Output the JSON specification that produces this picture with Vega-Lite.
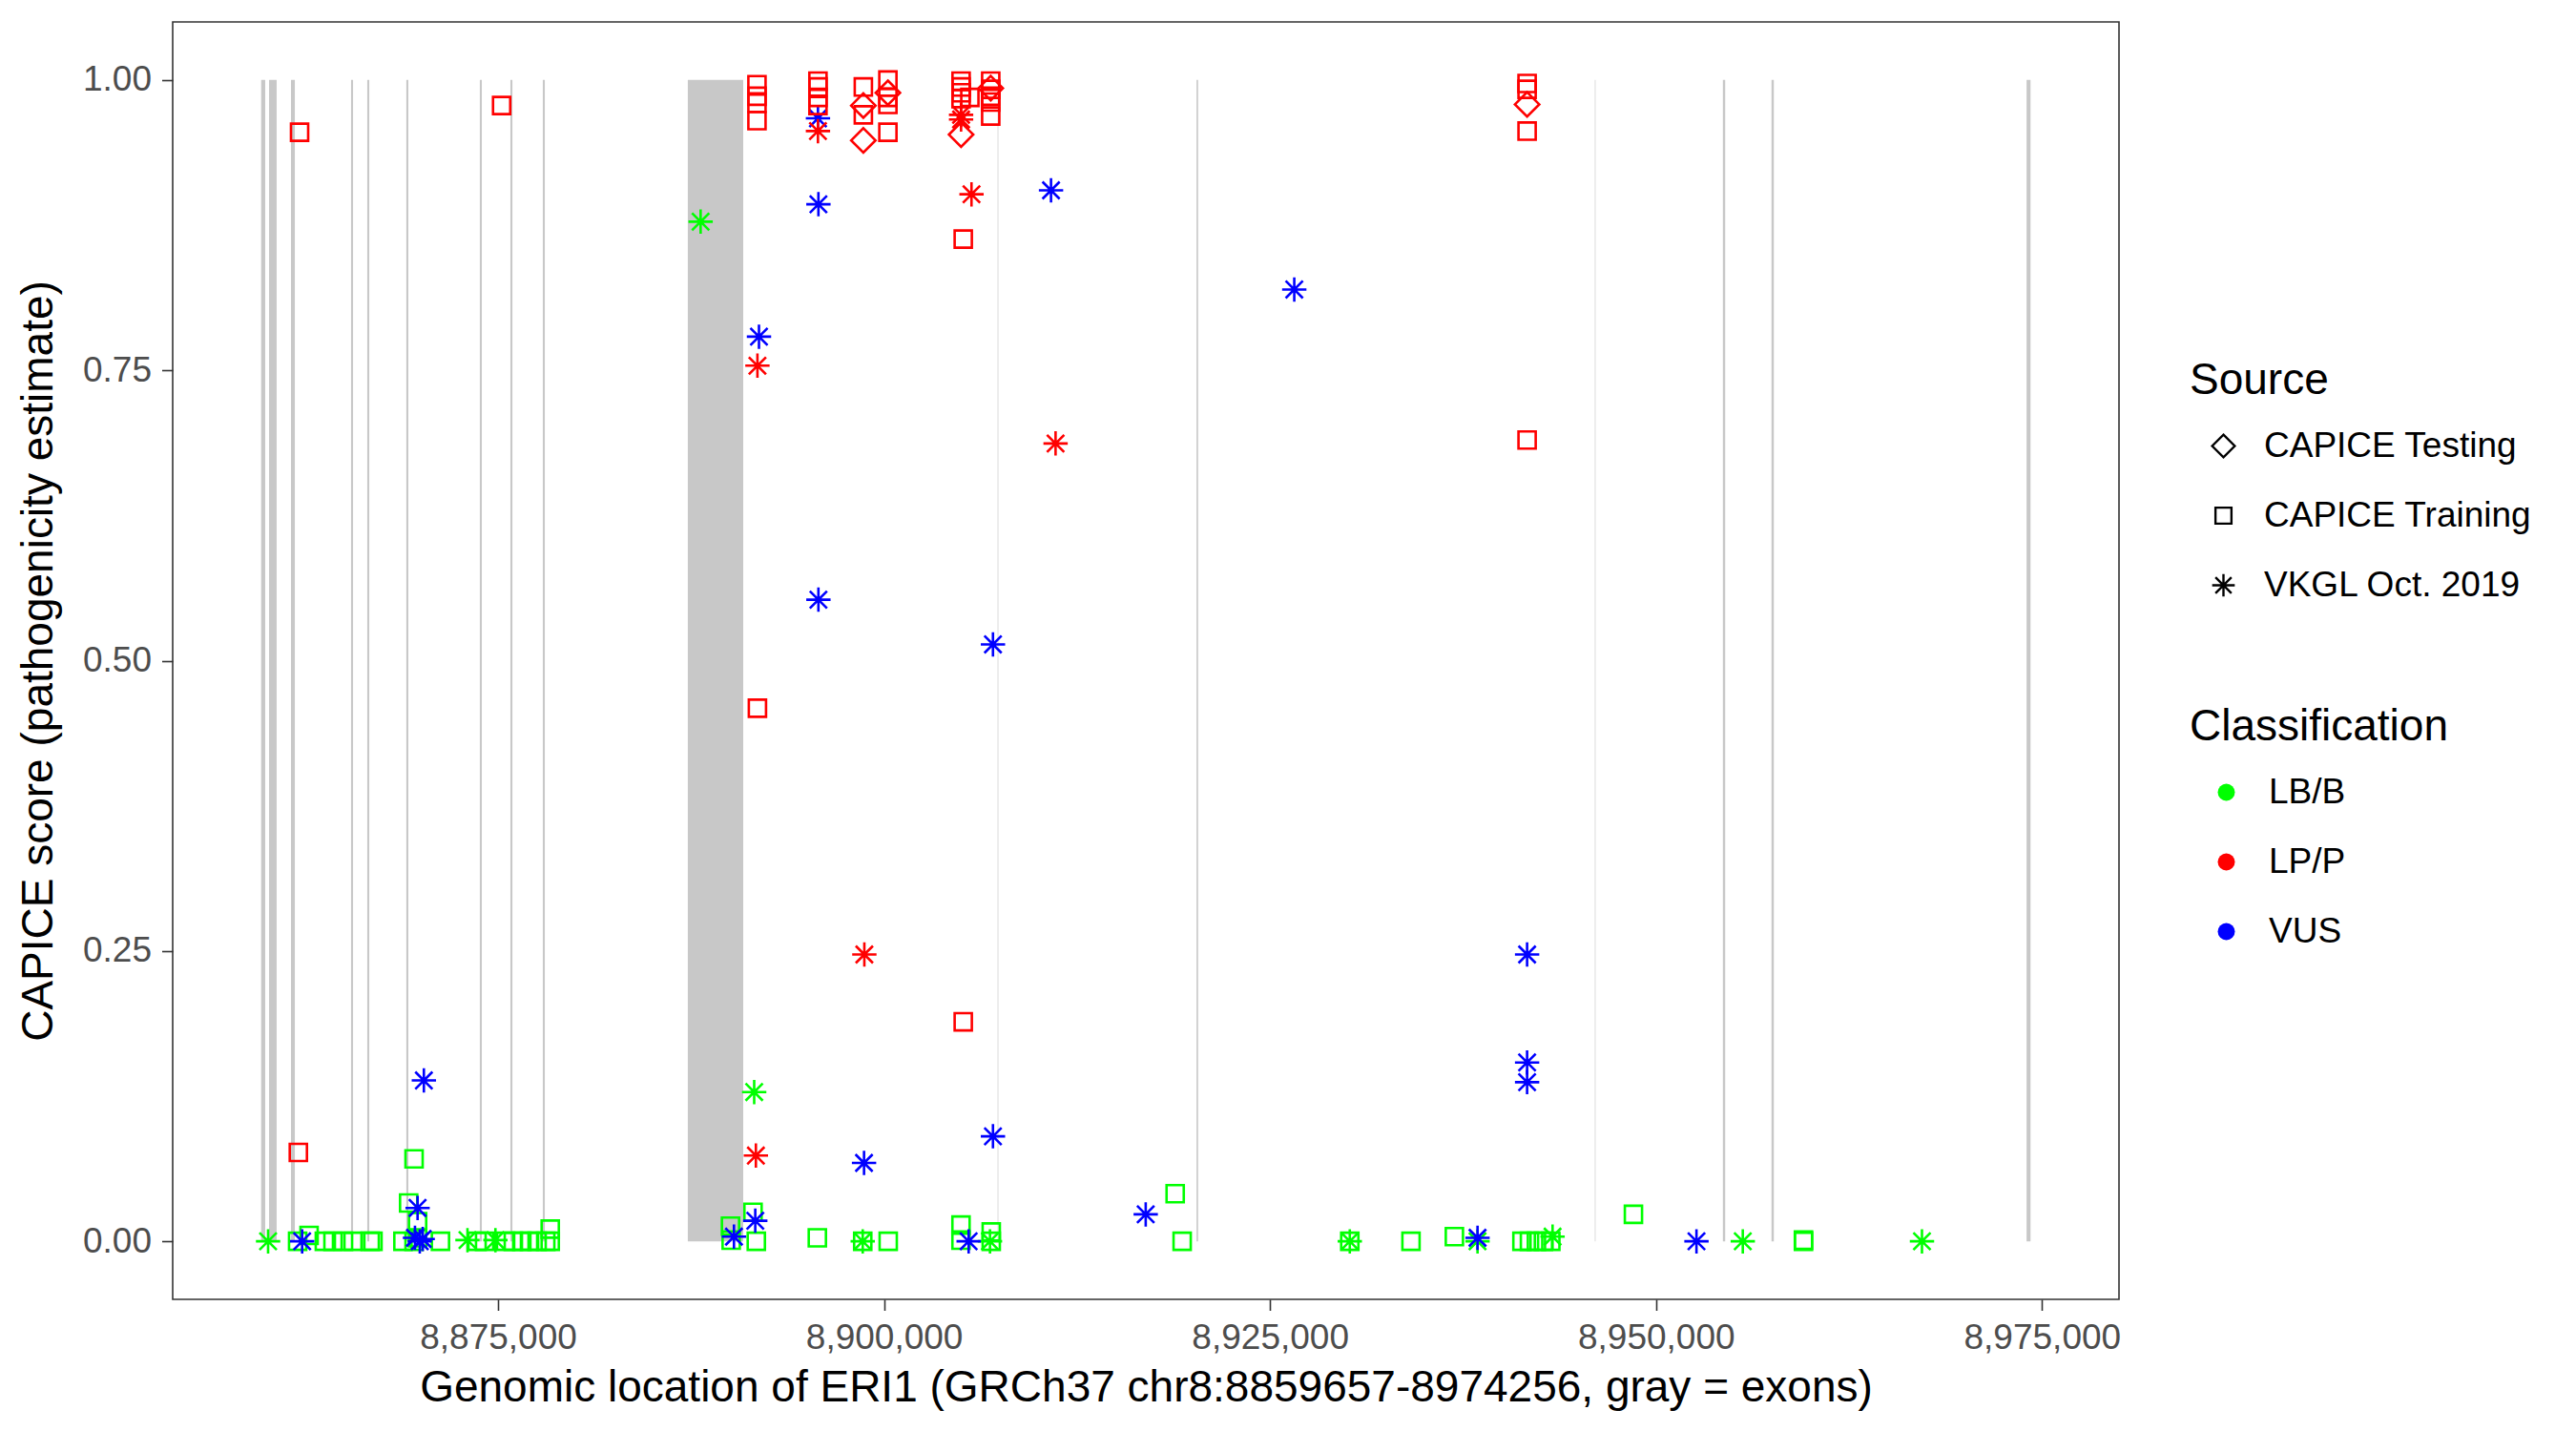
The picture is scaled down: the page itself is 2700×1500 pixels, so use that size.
{
  "$schema": "https://vega.github.io/schema/vega-lite/v6.json",
  "width": 2040,
  "height": 1339,
  "autosize": {"type": "none"},
  "padding": {"left": 181, "top": 23, "right": 479, "bottom": 138},
  "background": "white",
  "config": {
    "font": "Liberation Sans",
    "view": {"stroke": "#333333", "strokeWidth": 1.6},
    "axis": {
      "grid": false,
      "domain": false,
      "labelFontSize": 37,
      "labelColor": "#4D4D4D",
      "labelFont": "Liberation Sans",
      "tickColor": "#333333",
      "tickWidth": 1.6,
      "tickSize": 11.5,
      "labelPadding": 11,
      "titleFontSize": 46,
      "titleFontWeight": "normal",
      "titleColor": "black",
      "titleFont": "Liberation Sans"
    },
    "legend": {
      "titleFont": "Liberation Sans",
      "labelFont": "Liberation Sans",
      "titleFontSize": 46,
      "titleFontWeight": "normal",
      "titleColor": "black",
      "labelFontSize": 37,
      "labelColor": "black",
      "labelLimit": 0,
      "titleLimit": 0,
      "padding": 0
    }
  },
  "datasets": {
    "exons": [
      {"start": 8859657, "end": 8859920},
      {"start": 8860170, "end": 8860660},
      {"start": 8861590, "end": 8861840},
      {"start": 8865480, "end": 8865610},
      {"start": 8866530, "end": 8866660},
      {"start": 8869060, "end": 8869190},
      {"start": 8873820, "end": 8873950},
      {"start": 8875800, "end": 8875930},
      {"start": 8877900, "end": 8878030},
      {"start": 8887290, "end": 8890880},
      {"start": 8907360, "end": 8907400},
      {"start": 8920240, "end": 8920340},
      {"start": 8946040, "end": 8946080},
      {"start": 8954330, "end": 8954480},
      {"start": 8957480, "end": 8957630},
      {"start": 8974000, "end": 8974256}
    ],
    "variants": [
      {"pos": 8862020, "score": 0, "source": "CAPICE Training", "cls": "LB/B"},
      {"pos": 8862760, "score": 0.005, "source": "CAPICE Training", "cls": "LB/B"},
      {"pos": 8863750, "score": 0, "source": "CAPICE Training", "cls": "LB/B"},
      {"pos": 8864310, "score": 0, "source": "CAPICE Training", "cls": "LB/B"},
      {"pos": 8864990, "score": 0, "source": "CAPICE Training", "cls": "LB/B"},
      {"pos": 8865610, "score": 0, "source": "CAPICE Training", "cls": "LB/B"},
      {"pos": 8866720, "score": 0, "source": "CAPICE Training", "cls": "LB/B"},
      {"pos": 8866900, "score": 0, "source": "CAPICE Training", "cls": "LB/B"},
      {"pos": 8868840, "score": 0, "source": "CAPICE Training", "cls": "LB/B"},
      {"pos": 8869560, "score": 0.071, "source": "CAPICE Training", "cls": "LB/B"},
      {"pos": 8869210, "score": 0.033, "source": "CAPICE Training", "cls": "LB/B"},
      {"pos": 8869790, "score": 0.017, "source": "CAPICE Training", "cls": "LB/B"},
      {"pos": 8869790, "score": 0.003, "source": "CAPICE Training", "cls": "LB/B"},
      {"pos": 8869560, "score": 0, "source": "CAPICE Training", "cls": "LB/B"},
      {"pos": 8871270, "score": 0, "source": "CAPICE Training", "cls": "LB/B"},
      {"pos": 8873640, "score": 0, "source": "CAPICE Training", "cls": "LB/B"},
      {"pos": 8874130, "score": 0, "source": "CAPICE Training", "cls": "LB/B"},
      {"pos": 8875490, "score": 0, "source": "CAPICE Training", "cls": "LB/B"},
      {"pos": 8875990, "score": 0, "source": "CAPICE Training", "cls": "LB/B"},
      {"pos": 8876540, "score": 0, "source": "CAPICE Training", "cls": "LB/B"},
      {"pos": 8877040, "score": 0, "source": "CAPICE Training", "cls": "LB/B"},
      {"pos": 8877530, "score": 0, "source": "CAPICE Training", "cls": "LB/B"},
      {"pos": 8878090, "score": 0, "source": "CAPICE Training", "cls": "LB/B"},
      {"pos": 8878380, "score": 0.0105, "source": "CAPICE Training", "cls": "LB/B"},
      {"pos": 8878380, "score": 0, "source": "CAPICE Training", "cls": "LB/B"},
      {"pos": 8890056, "score": 0.013, "source": "CAPICE Training", "cls": "LB/B"},
      {"pos": 8890100, "score": 0.001, "source": "CAPICE Training", "cls": "LB/B"},
      {"pos": 8891515, "score": 0.025, "source": "CAPICE Training", "cls": "LB/B"},
      {"pos": 8891727, "score": 0, "source": "CAPICE Training", "cls": "LB/B"},
      {"pos": 8895680, "score": 0.003, "source": "CAPICE Training", "cls": "LB/B"},
      {"pos": 8898620, "score": 0, "source": "CAPICE Training", "cls": "LB/B"},
      {"pos": 8900270, "score": 0, "source": "CAPICE Training", "cls": "LB/B"},
      {"pos": 8904985, "score": 0.014, "source": "CAPICE Training", "cls": "LB/B"},
      {"pos": 8904985, "score": 0.001, "source": "CAPICE Training", "cls": "LB/B"},
      {"pos": 8906943, "score": 0.008, "source": "CAPICE Training", "cls": "LB/B"},
      {"pos": 8906943, "score": 0, "source": "CAPICE Training", "cls": "LB/B"},
      {"pos": 8918856, "score": 0.041, "source": "CAPICE Training", "cls": "LB/B"},
      {"pos": 8919308, "score": 0, "source": "CAPICE Training", "cls": "LB/B"},
      {"pos": 8930166, "score": 0, "source": "CAPICE Training", "cls": "LB/B"},
      {"pos": 8934130, "score": 0, "source": "CAPICE Training", "cls": "LB/B"},
      {"pos": 8936940, "score": 0.004, "source": "CAPICE Training", "cls": "LB/B"},
      {"pos": 8941316, "score": 0, "source": "CAPICE Training", "cls": "LB/B"},
      {"pos": 8941803, "score": 0, "source": "CAPICE Training", "cls": "LB/B"},
      {"pos": 8942255, "score": 0, "source": "CAPICE Training", "cls": "LB/B"},
      {"pos": 8942706, "score": 0, "source": "CAPICE Training", "cls": "LB/B"},
      {"pos": 8943188, "score": 0, "source": "CAPICE Training", "cls": "LB/B"},
      {"pos": 8948537, "score": 0.0232, "source": "CAPICE Training", "cls": "LB/B"},
      {"pos": 8959550, "score": 0.001, "source": "CAPICE Training", "cls": "LB/B"},
      {"pos": 8959550, "score": 0, "source": "CAPICE Training", "cls": "LB/B"},
      {"pos": 8860106, "score": 0, "source": "VKGL Oct. 2019", "cls": "LB/B"},
      {"pos": 8873020, "score": 0.001, "source": "VKGL Oct. 2019", "cls": "LB/B"},
      {"pos": 8874830, "score": 0.001, "source": "VKGL Oct. 2019", "cls": "LB/B"},
      {"pos": 8888120, "score": 0.878, "source": "VKGL Oct. 2019", "cls": "LB/B"},
      {"pos": 8891590, "score": 0.1285, "source": "VKGL Oct. 2019", "cls": "LB/B"},
      {"pos": 8898620, "score": 0, "source": "VKGL Oct. 2019", "cls": "LB/B"},
      {"pos": 8906862, "score": 0, "source": "VKGL Oct. 2019", "cls": "LB/B"},
      {"pos": 8930166, "score": 0, "source": "VKGL Oct. 2019", "cls": "LB/B"},
      {"pos": 8938440, "score": 0, "source": "VKGL Oct. 2019", "cls": "LB/B"},
      {"pos": 8943300, "score": 0.004, "source": "VKGL Oct. 2019", "cls": "LB/B"},
      {"pos": 8955620, "score": 0, "source": "VKGL Oct. 2019", "cls": "LB/B"},
      {"pos": 8967225, "score": 0, "source": "VKGL Oct. 2019", "cls": "LB/B"},
      {"pos": 8862312, "score": 0, "source": "VKGL Oct. 2019", "cls": "VUS"},
      {"pos": 8870196, "score": 0.1385, "source": "VKGL Oct. 2019", "cls": "VUS"},
      {"pos": 8869789, "score": 0.0287, "source": "VKGL Oct. 2019", "cls": "VUS"},
      {"pos": 8869620, "score": 0.003, "source": "VKGL Oct. 2019", "cls": "VUS"},
      {"pos": 8869930, "score": 0, "source": "VKGL Oct. 2019", "cls": "VUS"},
      {"pos": 8870120, "score": 0.002, "source": "VKGL Oct. 2019", "cls": "VUS"},
      {"pos": 8891900, "score": 0.779, "source": "VKGL Oct. 2019", "cls": "VUS"},
      {"pos": 8891660, "score": 0.0177, "source": "VKGL Oct. 2019", "cls": "VUS"},
      {"pos": 8890280, "score": 0.004, "source": "VKGL Oct. 2019", "cls": "VUS"},
      {"pos": 8895720, "score": 0.967, "source": "VKGL Oct. 2019", "cls": "VUS"},
      {"pos": 8895750, "score": 0.893, "source": "VKGL Oct. 2019", "cls": "VUS"},
      {"pos": 8895750, "score": 0.5525, "source": "VKGL Oct. 2019", "cls": "VUS"},
      {"pos": 8898705, "score": 0.0675, "source": "VKGL Oct. 2019", "cls": "VUS"},
      {"pos": 8905480, "score": 0, "source": "VKGL Oct. 2019", "cls": "VUS"},
      {"pos": 8907055, "score": 0.514, "source": "VKGL Oct. 2019", "cls": "VUS"},
      {"pos": 8907055, "score": 0.0904, "source": "VKGL Oct. 2019", "cls": "VUS"},
      {"pos": 8910815, "score": 0.905, "source": "VKGL Oct. 2019", "cls": "VUS"},
      {"pos": 8916948, "score": 0.0232, "source": "VKGL Oct. 2019", "cls": "VUS"},
      {"pos": 8926570, "score": 0.8196, "source": "VKGL Oct. 2019", "cls": "VUS"},
      {"pos": 8938440, "score": 0.003, "source": "VKGL Oct. 2019", "cls": "VUS"},
      {"pos": 8941650, "score": 0.247, "source": "VKGL Oct. 2019", "cls": "VUS"},
      {"pos": 8941650, "score": 0.154, "source": "VKGL Oct. 2019", "cls": "VUS"},
      {"pos": 8941650, "score": 0.137, "source": "VKGL Oct. 2019", "cls": "VUS"},
      {"pos": 8952620, "score": 0, "source": "VKGL Oct. 2019", "cls": "VUS"},
      {"pos": 8862145, "score": 0.955, "source": "CAPICE Training", "cls": "LP/P"},
      {"pos": 8875232, "score": 0.978, "source": "CAPICE Training", "cls": "LP/P"},
      {"pos": 8862065, "score": 0.0765, "source": "CAPICE Training", "cls": "LP/P"},
      {"pos": 8891770, "score": 0.996, "source": "CAPICE Training", "cls": "LP/P"},
      {"pos": 8891770, "score": 0.986, "source": "CAPICE Training", "cls": "LP/P"},
      {"pos": 8891770, "score": 0.98, "source": "CAPICE Training", "cls": "LP/P"},
      {"pos": 8891770, "score": 0.965, "source": "CAPICE Training", "cls": "LP/P"},
      {"pos": 8891800, "score": 0.459, "source": "CAPICE Training", "cls": "LP/P"},
      {"pos": 8895720, "score": 0.999, "source": "CAPICE Training", "cls": "LP/P"},
      {"pos": 8895720, "score": 0.994, "source": "CAPICE Training", "cls": "LP/P"},
      {"pos": 8895720, "score": 0.985, "source": "CAPICE Training", "cls": "LP/P"},
      {"pos": 8895720, "score": 0.978, "source": "CAPICE Training", "cls": "LP/P"},
      {"pos": 8898660, "score": 0.994, "source": "CAPICE Training", "cls": "LP/P"},
      {"pos": 8898660, "score": 0.97, "source": "CAPICE Training", "cls": "LP/P"},
      {"pos": 8900250, "score": 1.0, "source": "CAPICE Training", "cls": "LP/P"},
      {"pos": 8900250, "score": 0.985, "source": "CAPICE Training", "cls": "LP/P"},
      {"pos": 8900250, "score": 0.979, "source": "CAPICE Training", "cls": "LP/P"},
      {"pos": 8900250, "score": 0.955, "source": "CAPICE Training", "cls": "LP/P"},
      {"pos": 8904990, "score": 0.999, "source": "CAPICE Training", "cls": "LP/P"},
      {"pos": 8904990, "score": 0.994, "source": "CAPICE Training", "cls": "LP/P"},
      {"pos": 8904990, "score": 0.989, "source": "CAPICE Training", "cls": "LP/P"},
      {"pos": 8904990, "score": 0.984, "source": "CAPICE Training", "cls": "LP/P"},
      {"pos": 8905560, "score": 0.985, "source": "CAPICE Training", "cls": "LP/P"},
      {"pos": 8905130, "score": 0.863, "source": "CAPICE Training", "cls": "LP/P"},
      {"pos": 8905130, "score": 0.189, "source": "CAPICE Training", "cls": "LP/P"},
      {"pos": 8906910, "score": 0.999, "source": "CAPICE Training", "cls": "LP/P"},
      {"pos": 8906910, "score": 0.992, "source": "CAPICE Training", "cls": "LP/P"},
      {"pos": 8906910, "score": 0.986, "source": "CAPICE Training", "cls": "LP/P"},
      {"pos": 8906910, "score": 0.981, "source": "CAPICE Training", "cls": "LP/P"},
      {"pos": 8906910, "score": 0.969, "source": "CAPICE Training", "cls": "LP/P"},
      {"pos": 8941650, "score": 0.997, "source": "CAPICE Training", "cls": "LP/P"},
      {"pos": 8941650, "score": 0.992, "source": "CAPICE Training", "cls": "LP/P"},
      {"pos": 8941650, "score": 0.956, "source": "CAPICE Training", "cls": "LP/P"},
      {"pos": 8941650, "score": 0.69, "source": "CAPICE Training", "cls": "LP/P"},
      {"pos": 8898660, "score": 0.978, "source": "CAPICE Testing", "cls": "LP/P"},
      {"pos": 8898660, "score": 0.948, "source": "CAPICE Testing", "cls": "LP/P"},
      {"pos": 8900250, "score": 0.989, "source": "CAPICE Testing", "cls": "LP/P"},
      {"pos": 8904990, "score": 0.953, "source": "CAPICE Testing", "cls": "LP/P"},
      {"pos": 8941650, "score": 0.979, "source": "CAPICE Testing", "cls": "LP/P"},
      {"pos": 8906910, "score": 0.993, "source": "CAPICE Testing", "cls": "LP/P"},
      {"pos": 8891800, "score": 0.754, "source": "VKGL Oct. 2019", "cls": "LP/P"},
      {"pos": 8891700, "score": 0.0738, "source": "VKGL Oct. 2019", "cls": "LP/P"},
      {"pos": 8895720, "score": 0.956, "source": "VKGL Oct. 2019", "cls": "LP/P"},
      {"pos": 8898725, "score": 0.247, "source": "VKGL Oct. 2019", "cls": "LP/P"},
      {"pos": 8904990, "score": 0.97, "source": "VKGL Oct. 2019", "cls": "LP/P"},
      {"pos": 8904990, "score": 0.966, "source": "VKGL Oct. 2019", "cls": "LP/P"},
      {"pos": 8905665, "score": 0.9016, "source": "VKGL Oct. 2019", "cls": "LP/P"},
      {"pos": 8911110, "score": 0.687, "source": "VKGL Oct. 2019", "cls": "LP/P"}
    ]
  },
  "layer": [
    {
      "data": {"name": "exons"},
      "mark": {"type": "rect", "fill": "#C8C8C8"},
      "encoding": {
        "x": {
          "field": "start", "type": "quantitative",
          "scale": {"domain": [8853927, 8979986], "nice": false, "zero": false},
          "axis": {"values": [8875000, 8900000, 8925000, 8950000, 8975000], "format": ",.0f", "title": "Genomic location of ERI1 (GRCh37 chr8:8859657-8974256, gray = exons)", "titlePadding": 12}
        },
        "x2": {"field": "end"},
        "y": {
          "datum": 0, "type": "quantitative",
          "scale": {"domain": [-0.05, 1.05], "nice": false, "zero": false},
          "axis": {"values": [0, 0.25, 0.5, 0.75, 1], "format": ".2f", "title": "CAPICE score (pathogenicity estimate)", "titlePadding": 22}
        },
        "y2": {"datum": 1}
      }
    },
    {
      "data": {"name": "variants"},
      "mark": {"type": "point", "filled": false, "strokeWidth": 2.6, "size": 650, "fillOpacity": 0, "opacity": 1},
      "encoding": {
        "x": {"field": "pos", "type": "quantitative", "title": "Genomic location of ERI1 (GRCh37 chr8:8859657-8974256, gray = exons)"},
        "y": {"field": "score", "type": "quantitative", "title": "CAPICE score (pathogenicity estimate)"},
        "shape": {
          "field": "source", "type": "nominal",
          "scale": {
            "domain": ["CAPICE Testing", "CAPICE Training", "VKGL Oct. 2019"],
            "range": ["M0,-1L1,0L0,1L-1,0Z", "M-0.707,-0.707H0.707V0.707H-0.707Z", "M-1,0H1M0,-1V1M-0.707,-0.707L0.707,0.707M-0.707,0.707L0.707,-0.707"]
          },
          "legend": {
            "title": "Source", "orient": "none", "legendX": 2114, "legendY": 354,
            "symbolSize": 560, "symbolStrokeWidth": 2.4, "symbolStrokeColor": "black", "symbolFillColor": "transparent",
            "symbolOffset": 17, "labelOffset": 24, "rowPadding": 35, "titlePadding": 26
          }
        },
        "fill": {
          "field": "cls", "type": "nominal",
          "scale": {"domain": ["LB/B", "LP/P", "VUS"], "range": ["#00FF00", "#FF0000", "#0000FF"]},
          "legend": {
            "title": "Classification", "orient": "none", "legendX": 2114, "legendY": 717,
            "symbolType": "circle", "symbolSize": 324, "symbolStrokeWidth": 0,
            "symbolOffset": 20, "labelOffset": 26, "rowPadding": 35, "titlePadding": 26,
            "encode": {"symbols": {"fillOpacity": {"value": 1}, "strokeWidth": {"value": 0}}}
          }
        },
        "stroke": {
          "field": "cls", "type": "nominal",
          "scale": {"domain": ["LB/B", "LP/P", "VUS"], "range": ["#00FF00", "#FF0000", "#0000FF"]},
          "legend": null
        }
      }
    }
  ]
}
